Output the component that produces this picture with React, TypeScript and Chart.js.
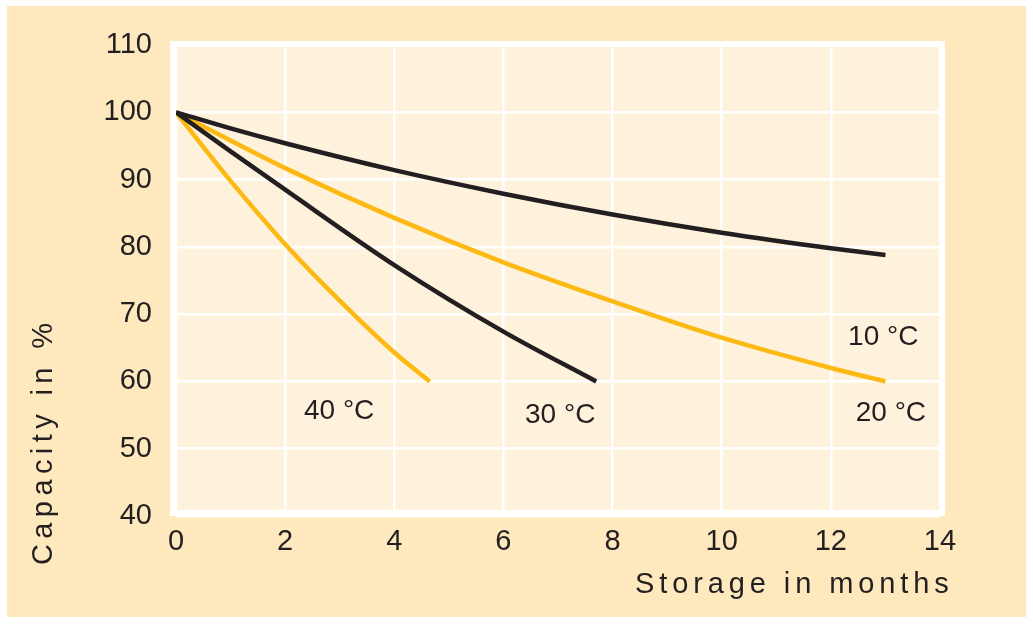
import React, { useEffect, useRef } from "react";
import { Chart, registerables } from "chart.js";

Chart.register(...registerables);

// ---- data ----
const months10 = [0, 1, 2, 4, 6, 8, 10, 12, 13];
const capacity10 = [100, 97.6, 95.4, 91.4, 87.9, 84.8, 82.1, 79.8, 78.8];

const months20 = [0, 1, 2, 4, 6, 8, 10, 12, 13];
const capacity20 = [100, 95.8, 91.7, 84.3, 77.7, 71.9, 66.5, 62.0, 60];

const months30 = [0, 1, 2, 4, 6, 7.7];
const capacity30 = [100, 94.2, 88.5, 77.3, 67.4, 60];

const months40 = [0, 1, 2, 3, 4, 4.65];
const capacity40 = [100, 89.8, 80.4, 72.0, 64.3, 60];

const seriesLabels = ["10 °C", "30 °C", "20 °C", "40 °C"];
// label anchor points in data units (months, %)
const labelMonths = [12.96, 7.04, 13.1, 2.99];
const labelCapacity = [66.6, 55.0, 55.3, 55.6];

const xMin = 0, xMax = 14, xStep = 2;
const yMin = 40, yMax = 110, yStep = 10;
const xTitle = "Storage in months";
const yTitle = "Capacity in %";

// ---- styles ----
const BLACK = "#231F20";
const YELLOW = "#FDB913";
const OUTER = "#FEE8BD";
const INNER = "#FFF2DC";
const FONT = '"Liberation Sans", Arial, Helvetica, sans-serif';

const toPoints = (xs: number[], ys: number[]) => xs.map((x, i) => ({ x, y: ys[i] }));

const decor = {
  id: "decor",
  beforeDraw(chart: any) {
    const { ctx, chartArea: a } = chart;
    ctx.save();
    ctx.fillStyle = "#ffffff";
    ctx.fillRect(0, 0, chart.width, chart.height);
    ctx.fillStyle = OUTER;
    ctx.fillRect(7, 6, chart.width - 14, chart.height - 13);
    ctx.fillStyle = "#ffffff";
    ctx.fillRect(a.left - 6, a.top - 4, a.width + 11, a.height + 4);
    ctx.fillStyle = INNER;
    ctx.fillRect(a.left, a.top + 2, a.width, a.height - 8);
    ctx.restore();
  },
  afterDraw(chart: any) {
    const { ctx, chartArea: a, scales } = chart;
    ctx.save();
    ctx.fillStyle = BLACK;
    // series labels
    ctx.font = `28px ${FONT}`;
    ctx.textAlign = "center";
    ctx.textBaseline = "middle";
    seriesLabels.forEach((t, i) => {
      const px = scales.x.getPixelForValue(labelMonths[i]);
      const py = scales.y.getPixelForValue(labelCapacity[i]);
      ctx.fillText(t, px, py);
    });
    // axis titles with letter spacing
    ctx.font = `29px ${FONT}`;
    (ctx as any).letterSpacing = "4.9px";
    ctx.textAlign = "left";
    ctx.textBaseline = "alphabetic";
    ctx.fillText(xTitle, a.left + 459, a.bottom + 77);
    ctx.translate(52, a.bottom + 49);
    ctx.rotate(-Math.PI / 2);
    (ctx as any).letterSpacing = "5.4px";
    ctx.fillText(yTitle, 0, 0);
    ctx.restore();
  },
};

export default function App() {
  const ref = useRef<HTMLCanvasElement>(null);
  useEffect(() => {
    if (!ref.current) return;
    Chart.defaults.font.family = FONT;
    const ds = (label: string, xs: number[], ys: number[], color: string) => ({
      label,
      data: toPoints(xs, ys),
      borderColor: color,
      backgroundColor: color,
      borderWidth: 4.5,
      pointRadius: 0,
      cubicInterpolationMode: "monotone" as const,
      borderCapStyle: "butt" as const,
      fill: false,
    });
    const chart = new Chart(ref.current, {
      type: "line",
      data: {
        datasets: [
          ds(seriesLabels[0], months10, capacity10, BLACK),
          ds(seriesLabels[1], months30, capacity30, BLACK),
          ds(seriesLabels[2], months20, capacity20, YELLOW),
          ds(seriesLabels[3], months40, capacity40, YELLOW),
        ],
      },
      options: {
        animation: false,
        responsive: false,
        layout: { padding: { left: 0, top: 45, right: 93, bottom: 0 } },
        plugins: { legend: { display: false }, tooltip: { enabled: false } },
        scales: {
          x: {
            type: "linear",
            min: xMin,
            max: xMax,
            ticks: { stepSize: xStep, color: BLACK, font: { size: 29 }, padding: 9, maxRotation: 0 },
            grid: { color: "#ffffff", lineWidth: 2.5, drawTicks: false },
            border: { display: false },
            afterFit: (s: any) => { s.height = 108; },
          },
          y: {
            type: "linear",
            min: yMin,
            max: yMax,
            ticks: { stepSize: yStep, color: BLACK, font: { size: 29 }, padding: 24 },
            grid: { color: "#ffffff", lineWidth: 2.5, drawTicks: false },
            border: { display: false },
            afterFit: (s: any) => { s.width = 176; },
          },
        },
      },
      plugins: [decor],
    });
    return () => chart.destroy();
  }, []);
  return (
    <div style={{ position: "absolute", left: 0, top: 0, width: 1033, height: 624 }}>
      <canvas ref={ref} width={1033} height={624} style={{ display: "block" }} />
    </div>
  );
}
